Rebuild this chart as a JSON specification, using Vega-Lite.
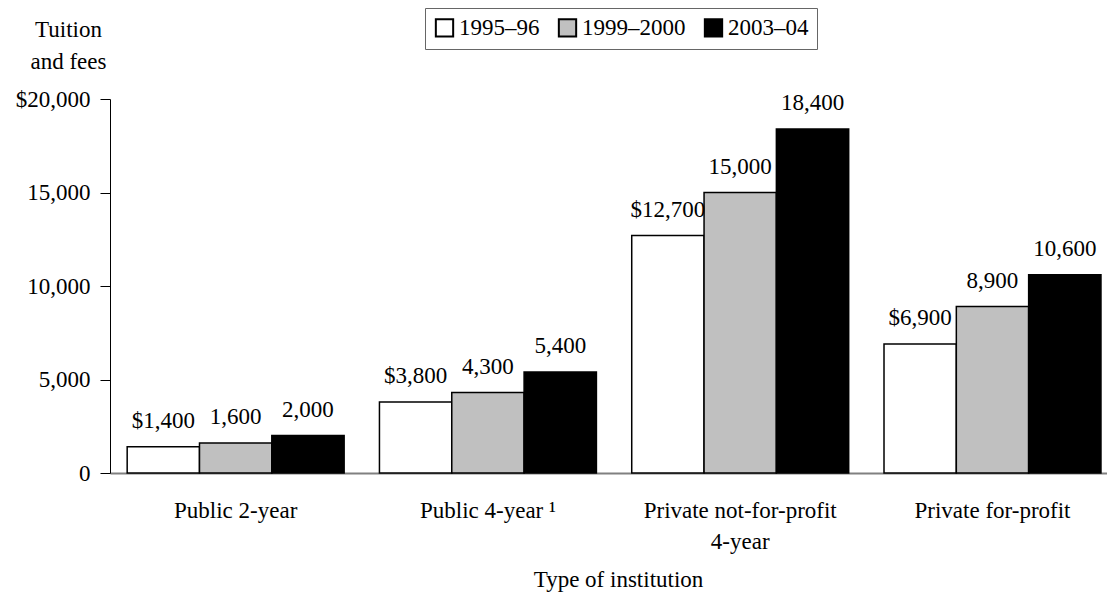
{
  "$schema": "https://vega.github.io/schema/vega-lite/v6.json",
  "autosize": "none",
  "padding": {"left": 110, "top": 99, "right": 0, "bottom": 122},
  "width": 997,
  "height": 374,
  "background": "white",
  "config": {
    "font": "Liberation Serif",
    "view": {"stroke": null},
    "axis": {"grid": false, "labelFont": "Liberation Serif", "titleFont": "Liberation Serif", "labelColor": "black", "titleColor": "black", "labelFontSize": 23, "titleFontSize": 23, "titleFontWeight": "normal"},
    "legend": {"labelFont": "Liberation Serif", "labelFontSize": 23, "labelColor": "black"}
  },
  "data": {
    "values": [
      {"type": "Public 2-year", "year": "1995–96", "value": 1400, "label": "$1,400"},
      {"type": "Public 2-year", "year": "1999–2000", "value": 1600, "label": "1,600"},
      {"type": "Public 2-year", "year": "2003–04", "value": 2000, "label": "2,000"},
      {"type": "Public 4-year", "year": "1995–96", "value": 3800, "label": "$3,800"},
      {"type": "Public 4-year", "year": "1999–2000", "value": 4300, "label": "4,300"},
      {"type": "Public 4-year", "year": "2003–04", "value": 5400, "label": "5,400"},
      {"type": "Private not-for-profit 4-year", "year": "1995–96", "value": 12700, "label": "$12,700"},
      {"type": "Private not-for-profit 4-year", "year": "1999–2000", "value": 15000, "label": "15,000"},
      {"type": "Private not-for-profit 4-year", "year": "2003–04", "value": 18400, "label": "18,400"},
      {"type": "Private for-profit", "year": "1995–96", "value": 6900, "label": "$6,900"},
      {"type": "Private for-profit", "year": "1999–2000", "value": 8900, "label": "8,900"},
      {"type": "Private for-profit", "year": "2003–04", "value": 10600, "label": "10,600"}
    ]
  },
  "encoding": {
    "x": {
      "field": "type", "type": "nominal", "sort": null,
      "scale": {"paddingInner": 0.14, "paddingOuter": 0.046, "align": 0.74},
      "axis": {
        "title": "Type of institution",
        "titleX": 508, "titleY": 113, "titleBaseline": "alphabetic", "titleAlign": "center",
        "labelAngle": 0, "ticks": false, "labelPadding": 26, "labelLineHeight": 31, "labelLimit": 0,
        "domainColor": "#808080", "domainWidth": 2,
        "labelExpr": "datum.label == 'Private not-for-profit 4-year' ? ['Private not-for-profit', '4-year'] : (datum.label == 'Public 4-year' ? 'Public 4-year ¹' : datum.label)"
      }
    },
    "xOffset": {"field": "year", "type": "nominal", "sort": null, "scale": {"paddingInner": 0, "paddingOuter": 0}},
    "y": {
      "field": "value", "type": "quantitative",
      "scale": {"domain": [0, 20000], "nice": false},
      "axis": {
        "values": [0, 5000, 10000, 15000, 20000],
        "title": ["Tuition", "and fees"],
        "titleAngle": 0, "titleAlign": "center", "titleBaseline": "alphabetic",
        "titleX": -42, "titleY": -63, "titleLineHeight": 32,
        "tickSize": 10, "labelPadding": 10, "tickColor": "black", "domainColor": "black", "domainWidth": 1,
        "labelExpr": "datum.value == 20000 ? '$20,000' : format(datum.value, ',')"
      }
    }
  },
  "layer": [
    {
      "mark": {"type": "bar", "stroke": "black", "strokeWidth": 1.5},
      "encoding": {
        "fill": {
          "field": "year", "type": "nominal", "sort": null,
          "scale": {"domain": ["1995–96", "1999–2000", "2003–04"], "range": ["white", "#c0c0c0", "black"]},
          "legend": {
            "title": null, "orient": "none", "direction": "horizontal",
            "legendX": 315, "legendY": -91,
            "strokeColor": "#666", "padding": 8,
            "symbolType": "square", "symbolSize": 300, "symbolStrokeColor": "black", "symbolStrokeWidth": 2,
            "labelOffset": 3, "columnPadding": 14
          }
        }
      }
    },
    {
      "mark": {"type": "text", "baseline": "alphabetic", "align": "center", "dy": -19, "fontSize": 23, "font": "Liberation Serif", "color": "black"},
      "encoding": {"text": {"field": "label"}}
    }
  ]
}
